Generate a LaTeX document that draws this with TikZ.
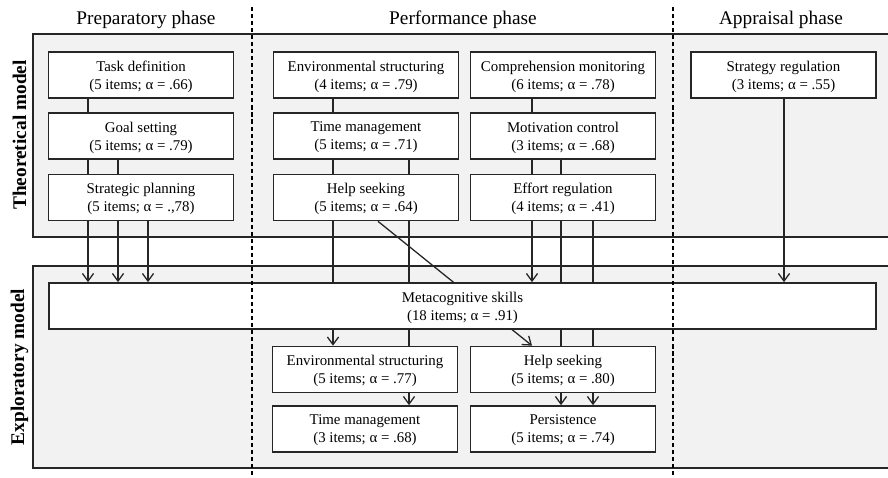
\documentclass[tikz,border=0pt]{standalone}
\usepackage{fontspec}
\setmainfont{Liberation Serif}
\usetikzlibrary{arrows.meta}

\pgfdeclarelayer{panel}
\pgfdeclarelayer{links}
\pgfsetlayers{panel,links,main}

\definecolor{panelgray}{RGB}{242,242,242}

\tikzset{
  scalebox/.style={draw=black!85, line width=1.4pt, fill=white, minimum width=5.55cm,
    minimum height=1.38cm, inner sep=0pt, align=center, text depth=0pt,
    font=\fontsize{12.7}{15.4}\selectfont},
  link/.style={draw=black!85, line width=1.1pt},
  arr/.style={link, -{Straight Barb[length=6.5pt,width=9.5pt]}},
  phase/.style={font=\fontsize{16.5}{20}\selectfont},
  model/.style={rotate=90, font=\fontsize{16.5}{20}\selectfont\bfseries},
  phaseline/.style={black, line width=1.1pt, dash pattern=on 3.5pt off 2.5pt},
}

\begin{document}
\begin{tikzpicture}[x=0.03cm, y=-0.03cm]
\useasboundingbox (0,0) rectangle (888,478);

% ---- headers and side labels
\node[phase] (prep) at (146,19.5) {Preparatory phase};
\node[phase] (perf) at (463,19.5) {Performance phase};
\node[phase] (appr) at (781,19.5) {Appraisal phase};
\node[model] (theo) at (19.5,135) {Theoretical model};
\node[model] (expl) at (19.5,367) {Exploratory model};

% ---- theoretical model
\node[scalebox] (td)  at (141,75)    {Task definition\\(5 items; α = .66)};
\node[scalebox] (gs)  at (141,136)   {Goal setting\\(5 items; α = .79)};
\node[scalebox] (sp)  at (141,197.5) {Strategic planning\\(5 items; α = .,78)};
\node[scalebox] (es1) at (366,75)    {Environmental structuring\\(4 items; α = .79)};
\node[scalebox] (tm1) at (366,136)   {Time management\\(5 items; α = .71)};
\node[scalebox] (hs1) at (366,197.5) {Help seeking\\(5 items; α = .64)};
\node[scalebox] (cm)  at (563,75)    {Comprehension monitoring\\(6 items; α = .78)};
\node[scalebox] (mc)  at (563,136)   {Motivation control\\(3 items; α = .68)};
\node[scalebox] (er)  at (563,197.5) {Effort regulation\\(4 items; α = .41)};
\node[scalebox] (sr)  at (783.5,75)  {Strategy regulation\\(3 items; α = .55)};

% ---- exploratory model
\node[scalebox, minimum width=24.81cm] (meta) at (462.5,306) {Metacognitive skills\\(18 items; α = .91)};
\node[scalebox] (es2) at (365,369.5) {Environmental structuring\\(5 items; α = .77)};
\node[scalebox] (tm2) at (365,429)   {Time management\\(3 items; α = .68)};
\node[scalebox] (hs2) at (563,369.5) {Help seeking\\(5 items; α = .80)};
\node[scalebox] (pe)  at (563,429)   {Persistence\\(5 items; α = .74)};

% ---- grey panels (behind everything)
\begin{pgfonlayer}{panel}
\fill[panelgray] (33,34) rectangle (888,237);
\draw[line width=1.4pt, black!85] (888,34) -- (33,34) -- (33,237) -- (888,237);
\fill[panelgray] (33,266) rectangle (888,468);
\draw[line width=1.4pt, black!85] (888,266) -- (33,266) -- (33,468) -- (888,468);
\end{pgfonlayer}

% ---- connectors, run behind the boxes
\begin{pgfonlayer}{links}
\foreach \n/\x in {td/88, gs/118, sp/148, cm/532, sr/784} {
  \coordinate (l) at (\x,0);
  \draw[arr] (\n.south -| l) -- (meta.north -| l);
}
\coordinate (l1) at (333,0);
\coordinate (l2) at (409,0);
\draw[arr] (es1.south -| l1) -- (es2.north -| l1);
\draw[arr] (tm1.south -| l2) -- (tm2.north -| l2);
\coordinate (d1) at (378,0);
\coordinate (d2) at (532,0);
\draw[arr] (hs1.south -| d1) -- (hs2.north -| d2); % diagonal
\coordinate (l3) at (561,0);
\coordinate (l4) at (593,0);
\draw[arr] (mc.south -| l3) -- (pe.north -| l3);
\draw[arr] (er.south -| l4) -- (pe.north -| l4);
\end{pgfonlayer}

% ---- phase borders
\coordinate (p1) at (252,7);
\coordinate (p2) at (673,7);
\draw[phaseline] (p1) -- (p1 |- 0,478) (p2) -- (p2 |- 0,478);

\end{tikzpicture}
\end{document}
